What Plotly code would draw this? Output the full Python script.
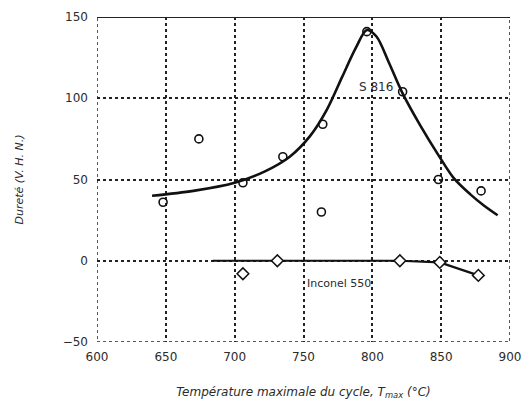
import plotly.graph_objects as go

# S 816 measured points (circles)
s816_x = [648, 674, 706, 735, 764, 763, 796, 822, 848, 879]
s816_y = [36, 75, 48, 64, 84, 30, 141, 104, 50, 43]

# S 816 fitted curve
s816_curve_x = [640, 670, 700, 722, 740, 755, 767, 778, 788, 796, 803, 812, 822, 835, 848, 859, 871, 881, 891]
s816_curve_y = [40, 43, 48, 55, 64, 77, 93, 113, 131, 142, 138, 122, 103, 83, 65, 51, 41, 34, 28]

# Inconel 550 points (diamonds)
inc_x = [706, 731, 820, 849, 877]
inc_y = [-8, 0, 0, -1, -9]

# Inconel 550 curve
inc_curve_x = [684, 731, 820, 849, 877]
inc_curve_y = [0, 0, 0, -1, -9]

x_ticks = [600, 650, 700, 750, 800, 850, 900]
y_ticks = [-50, 0, 50, 100, 150]

ink = "#2b2b2b"
font_family = "DejaVu Sans"

fig = go.Figure()

fig.add_trace(go.Scatter(x=s816_curve_x, y=s816_curve_y, mode="lines",
                         line=dict(color="#111111", width=2.6, shape="spline", smoothing=0.9),
                         hoverinfo="skip", showlegend=False))
fig.add_trace(go.Scatter(x=inc_curve_x, y=inc_curve_y, mode="lines",
                         line=dict(color="#111111", width=2.2),
                         hoverinfo="skip", showlegend=False))
fig.add_trace(go.Scatter(x=s816_x, y=s816_y, mode="markers",
                         marker=dict(symbol="circle-open", size=8, color="#111111", line=dict(width=1.6)),
                         showlegend=False))
fig.add_trace(go.Scatter(x=inc_x, y=inc_y, mode="markers",
                         marker=dict(symbol="diamond", size=9, color="white", line=dict(width=1.5, color="#111111")),
                         showlegend=False))

fig.add_annotation(x=803, y=107, text="S 816", showarrow=False,
                   font=dict(family=font_family, size=12, color=ink))
fig.add_annotation(x=776, y=-14, text="Inconel 550", showarrow=False,
                   font=dict(family=font_family, size=11, color=ink))

# frame
fig.add_shape(type="rect", xref="x", yref="y", x0=600, x1=900, y0=-50, y1=150,
              line=dict(color="#222222", width=1.5, dash="dot"), layer="below")
fig.add_shape(type="line", xref="x", yref="y", x0=600, x1=900, y0=150, y1=150,
              line=dict(color="#4a1030", width=2))

fig.update_xaxes(range=[600, 900], tickvals=x_ticks, ticktext=[str(v) for v in x_ticks],
                 showgrid=True, gridcolor="#222222", griddash="dot", gridwidth=1.5,
                 zeroline=False, showline=False, ticks="", ticklabelstandoff=6,
                 ticklabeloverflow="allow", automargin=False,
                 tickfont=dict(family=font_family, size=12, color=ink),
                 title=dict(text="<i>Température maximale du cycle, T<sub>max</sub> (°C)</i>",
                            font=dict(family=font_family, size=12, color=ink), standoff=24))
fig.update_yaxes(range=[-50, 150], tickvals=y_ticks,
                 ticktext=["−50", "0", "50", "100", "150"],
                 showgrid=True, gridcolor="#222222", griddash="dot", gridwidth=1.5,
                 zeroline=False, showline=False, ticks="", ticklabelstandoff=8,
                 ticklabeloverflow="allow", automargin=False,
                 tickfont=dict(family=font_family, size=12, color=ink),
                 title=dict(text="<i>Dureté (V. H. N.)</i>",
                            font=dict(family=font_family, size=11, color=ink), standoff=36))

fig.update_layout(width=521, height=409,
                  margin=dict(l=97, r=11, t=17, b=67),
                  paper_bgcolor="white", plot_bgcolor="white")

fig.write_html("out.html")
